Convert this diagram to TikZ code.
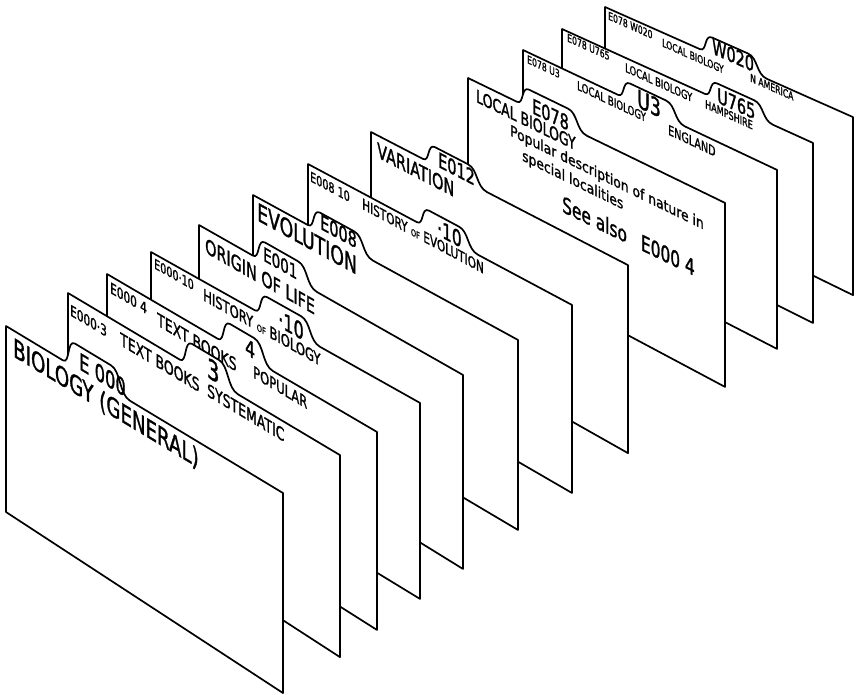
\documentclass[tikz,border=0pt]{standalone}
\usepackage{fontspec}
\newfontfamily\letters[FakeStretch=0.7,FakeBold=1.2]{DejaVu Sans}
\newfontfamily\notes[FakeStretch=0.82,FakeBold=1.2]{DejaVu Sans}
\usetikzlibrary{calc}

\tikzset{
	card/.style={draw, fill=white, line width=1.7pt, line join=round},
	lbl/.style={transform shape, inner sep=0pt, anchor=base west,
		font={\letters\fontsize{#1}{#1}\selectfont}},
	note/.style={lbl=#1, font={\notes\fontsize{#1}{#1}\selectfont}}
}
% width, left height, right height, tab start, tab end, tab height
\newcommand{\guidecard}[6]{%
	\draw[card] (0,#2) -- (0,0) -- (#4,0)
	.. controls (#4+7,0) and (#4+4,-#6) .. (#4+12,-#6)
	-- (#5-19,-#6)
	.. controls (#5-9,-#6) and (#5-11,0) .. (#5,0)
	-- (#1,0) -- (#1,#3) -- cycle;}
\newcommand{\smallof}{{\fontsize{9.5}{9.5}\selectfont OF}}

\begin{document}
\begin{tikzpicture}[x=1pt, y=-1pt]
		\useasboundingbox (0,0) rectangle (859,694);
		
		% =========================
		% back cards: local biology
		% =========================
		\begin{scope}[shift={(605,7)}, yslant=-0.444]
			\guidecard{248}{167}{178}{95}{162}{17}
			\node[lbl=11] (c12code) at (3,11) {E078 W020};
			\node[lbl=11] (c12head) at (57,14) {LOCAL BIOLOGY};
			\node[lbl=20.6] (c12tab) at (107,-1) {W020};
			\node[lbl=11] (c12sub) at (145,10) {N AMERICA};
		\end{scope}
		
		\begin{scope}[shift={(562,29)}, yslant=-0.454]
			\guidecard{251}{169}{180}{143}{211}{16}
			\node[lbl=11] (c11code) at (5,10) {E078 U765};
			\node[lbl=12] (c11head) at (63,14) {LOCAL BIOLOGY};
			\node[lbl=20.6] (c11tab) at (155,3) {U765};
			\node[lbl=11.5] (c11sub) at (143,14) {HAMPSHIRE};
		\end{scope}
		
		\begin{scope}[shift={(523,50)}, yslant=-0.472]
			\guidecard{254}{168}{179}{95}{162}{17}
			\node[lbl=11] (c10code) at (4,11) {E078 U3};
			\node[lbl=12.3] (c10head) at (54,14) {LOCAL BIOLOGY};
			\node[lbl=24.7] (c10tab) at (114,3) {U3};
			\node[lbl=13.7] (c10sub) at (145,16) {ENGLAND};
		\end{scope}
		
		\begin{scope}[shift={(468,78)}, yslant=-0.486]
			\guidecard{257}{172}{184}{49}{119}{18}
			\node[lbl=17.8] (c9head) at (8,20) {LOCAL BIOLOGY};
			\node[lbl=20.6] (c9tab) at (64,4) {E078};
			\node[note=15] (c9note) at (42,37) {Popular description of nature in};
			\node[note=15] (c9more) at (54,56) {special localities};
			\node[lbl=22] (c9see) at (94,88) {See also\hspace{14pt}E000 4};
		\end{scope}
		
		% =========================
		% middle cards: variation, evolution
		% =========================
		\begin{scope}[shift={(371,132)}, yslant=-0.518]
			\guidecard{257}{176}{188}{52}{116}{18}
			\node[lbl=20.6] (c8head) at (6,22) {VARIATION};
			\node[lbl=20.6] (c8tab) at (67,0) {E012};
		\end{scope}
		
		\begin{scope}[shift={(308,164)}, yslant=-0.534]
			\guidecard{264}{176}{188}{109}{170}{18}
			\node[lbl=13.7] (c7code) at (2,16) {E008 10};
			\node[lbl=15] (c7head) at (54,16) {HISTORY \smallof\ EVOLUTION};
			\node[lbl=22] (c7tab) at (129,2) {·10};
		\end{scope}
		
		\begin{scope}[shift={(253,195)}, yslant=-0.547]
			\guidecard{265}{178}{190}{55}{120}{19}
			\node[lbl=24.7] (c6head) at (4,23) {EVOLUTION};
			\node[lbl=20.6] (c6tab) at (67,-3) {E008};
		\end{scope}
		
		\begin{scope}[shift={(199,225)}, yslant=-0.568]
			\guidecard{264}{181}{194}{54}{118}{20}
			\node[lbl=20.5] (c5head) at (6,24) {ORIGIN OF LIFE};
			\node[lbl=19.2] (c5tab) at (64,-1) {E001};
		\end{scope}
		
		% =========================
		% front cards: biology
		% =========================
		\begin{scope}[shift={(151,252)}, yslant=-0.561]
			\guidecard{269}{183}{196}{104}{169}{20}
			\node[lbl=13.7] (c4code) at (3,14.5) {E000·10};
			\node[lbl=16.5] (c4head) at (52,19) {HISTORY \smallof\ BIOLOGY};
			\node[lbl=23] (c4tab) at (127,3) {·10};
		\end{scope}
		
		\begin{scope}[shift={(107,274)}, yslant=-0.585]
			\guidecard{270}{185}{198}{111}{166}{22}
			\node[lbl=15] (c3code) at (3,17) {E000 4};
			\node[lbl=17.8] (c3head) at (50,22) {TEXT BOOKS};
			\node[lbl=22] (c3tab) at (138,-1) {4};
			\node[lbl=16.5] (c3sub) at (146,18) {POPULAR};
		\end{scope}
		
		\begin{scope}[shift={(68,293)}, yslant=-0.596]
			\guidecard{272}{188}{202}{112}{170}{23}
			\node[lbl=15] (c2code) at (2,21) {E000·3};
			\node[lbl=17.8] (c2head) at (52,21) {TEXT BOOKS};
			\node[lbl=27.4] (c2tab) at (139,1) {3};
			\node[lbl=17.8] (c2sub) at (139,20) {SYSTEMATIC};
		\end{scope}
		
		\begin{scope}[shift={(6,326)}, yslant=-0.603]
			\guidecard{277}{186}{200}{57}{124}{24}
			\node[lbl=26] (c1head) at (7,26) {BIOLOGY (GENERAL)};
			\node[lbl=23.3] (c1tab) at (73,-1) {E 000};
		\end{scope}
		
	\end{tikzpicture}
\end{document}
